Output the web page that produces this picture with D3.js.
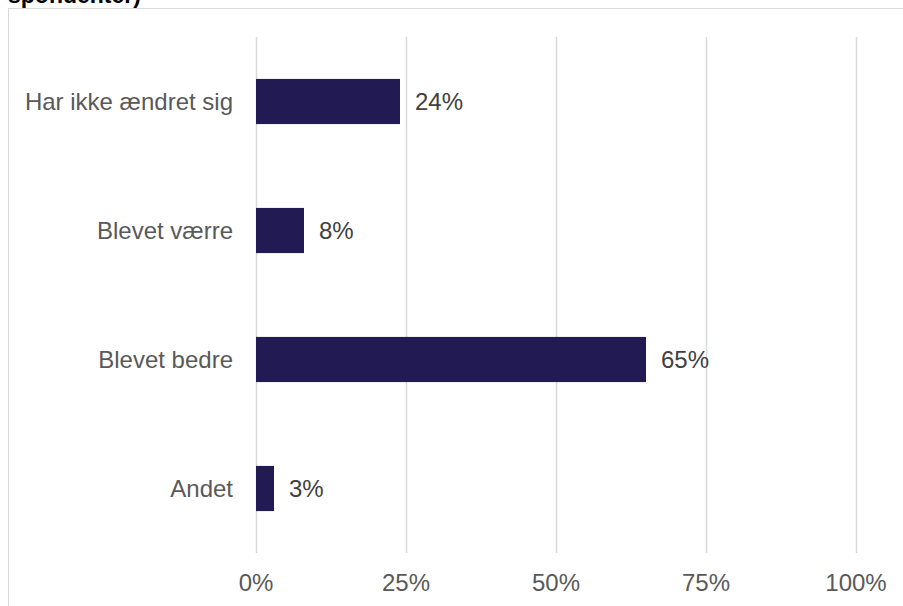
<!DOCTYPE html>
<html>
<head>
<meta charset="utf-8">
<script src="https://cdn.jsdelivr.net/npm/d3@7"></script>
<style>
  body { margin: 0; background: #fff; }
  svg { display: block; font-family: "Liberation Sans", Arial, sans-serif; }
</style>
</head>
<body>
<div id="chart"></div>
<script>
var categories = ["Har ikke ændret sig", "Blevet værre", "Blevet bedre", "Andet"];
var values = [24, 8, 65, 3];
var tickValues = [0, 25, 50, 75, 100];

var width = 903, height = 606;
var svg = d3.select("#chart").append("svg")
    .attr("width", width)
    .attr("height", height);

// cut-off title from the page above
svg.append("text")
    .attr("x", 8)
    .attr("y", 3)
    .style("font-size", "23px")
    .style("font-weight", "bold")
    .style("fill", "#000")
    .text("spondenter)");

// chart frame
svg.append("rect")
    .attr("x", 8.5)
    .attr("y", 8.5)
    .attr("width", width + 10)
    .attr("height", height + 10)
    .style("fill", "none")
    .style("stroke", "#d9d9d9");

var x = d3.scaleLinear().domain([0, 100]).range([256, 856]);
var y = d3.scaleBand().domain(categories).range([37, 553]);
var barH = y.step() * 0.35;

// gridlines
svg.selectAll(".grid")
    .data(tickValues)
  .enter().append("line")
    .attr("class", "grid")
    .attr("x1", function(d) { return x(d) + 0.5; })
    .attr("x2", function(d) { return x(d) + 0.5; })
    .attr("y1", 37)
    .attr("y2", 553)
    .style("stroke", "#d9d9d9")
    .style("stroke-width", 1.5);

// tick labels
svg.selectAll(".tick-label")
    .data(tickValues)
  .enter().append("text")
    .attr("class", "tick-label")
    .attr("x", function(d) { return x(d); })
    .attr("y", 591)
    .attr("text-anchor", "middle")
    .style("font-size", "24px")
    .style("fill", "#595959")
    .text(function(d) { return d + "%"; });

// bars
svg.selectAll(".bar")
    .data(categories)
  .enter().append("rect")
    .attr("class", "bar")
    .attr("x", x(0))
    .attr("y", function(d) { return y(d) + (y.bandwidth() - barH) / 2; })
    .attr("width", function(d, i) { return x(values[i]) - x(0); })
    .attr("height", barH)
    .style("fill", "#221a52");

// category labels
svg.selectAll(".cat-label")
    .data(categories)
  .enter().append("text")
    .attr("class", "cat-label")
    .attr("x", 233)
    .attr("y", function(d) { return y(d) + y.bandwidth() / 2; })
    .attr("dy", "0.35em")
    .attr("text-anchor", "end")
    .style("font-size", "24px")
    .style("fill", "#595959")
    .text(function(d) { return d; });

// value labels
svg.selectAll(".val-label")
    .data(categories)
  .enter().append("text")
    .attr("class", "val-label")
    .attr("x", function(d, i) { return x(values[i]) + 15; })
    .attr("y", function(d) { return y(d) + y.bandwidth() / 2; })
    .attr("dy", "0.35em")
    .style("font-size", "24px")
    .style("fill", "#404040")
    .text(function(d, i) { return values[i] + "%"; });
</script>
</body>
</html>
